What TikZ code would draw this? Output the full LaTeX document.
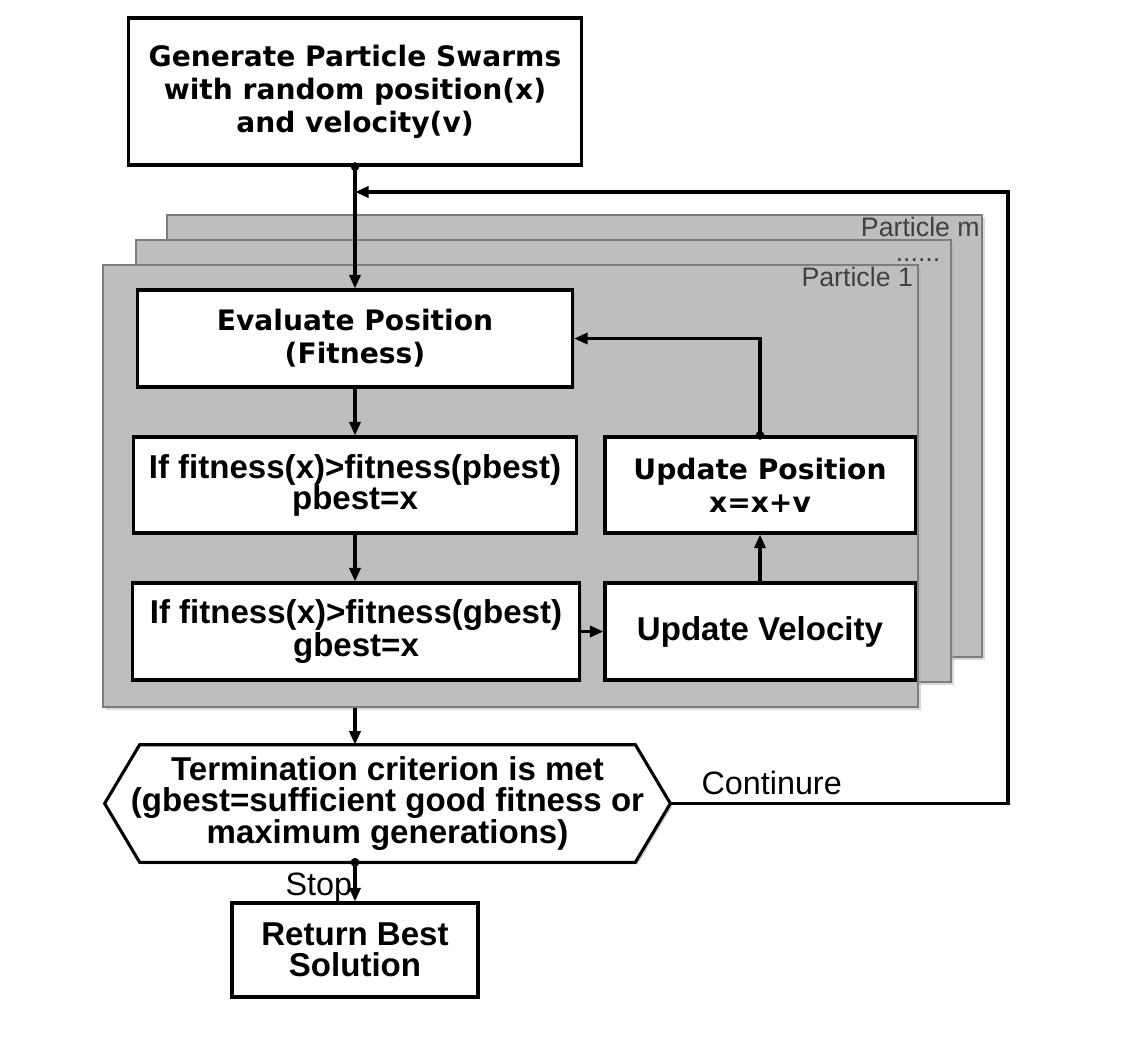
\documentclass[tikz,border=0pt]{standalone}
\usepackage{fontspec}
\setmainfont{Liberation Sans}
\newfontfamily\verd{DejaVu Sans}
\usetikzlibrary{arrows.meta,shadows,backgrounds}
\definecolor{panel}{RGB}{190,190,190}
\definecolor{panelline}{RGB}{125,125,125}
\begin{document}
\begin{tikzpicture}[x=0.025cm, y=-0.025cm,
  box/.style={draw, line width=2.2pt, fill=white, align=center, inner sep=2pt,
    drop shadow={shadow xshift=1.5pt, shadow yshift=-1.5pt, fill=black!40}},
  ltext/.style={align=center, font=\bfseries\fontsize{23.5}{22}\selectfont},
  vbox/.style={box, font=\verd\bfseries\fontsize{20}{23.5}\selectfont},
  lbox/.style={box, ltext},
  sheet/.style={draw=panelline, line width=1pt, fill=panel,
    minimum width=20.375cm, minimum height=11.05cm,
    drop shadow={shadow xshift=2pt, shadow yshift=-2pt, fill=black!30}},
  tag/.style={font=\fontsize{19}{22}\selectfont, text=black!75, anchor=north east,
    inner sep=2pt, text height=13.6pt},
  flow/.style={line width=2.2pt, -{Triangle[length=0.34cm,width=0.28cm]}},
  dot/.style={circle, fill, inner sep=0pt, minimum size=0.22cm}
]
\useasboundingbox (0,0) rectangle (1128,1038);

\node[sheet] (pm) at (574.5,436) {};
\node[sheet] (pd) at (543.5,461) {};
\node[sheet] (p1) at (510.5,486) {};
\node[tag] (tm) at (pm.north east) {Particle m};
\node[tag] (td) at ([xshift=-6pt]pd.north east) {......};
\node[tag] (t1) at ([xshift=-2pt]p1.north east) {Particle 1};

\node[vbox, minimum width=11.3cm, minimum height=3.675cm] (gen) at (355,91.5)
  {Generate Particle Swarms\\with random position(x)\\and velocity(v)};
\node[vbox, minimum width=10.875cm, minimum height=2.425cm] (ev) at (355,338.5)
  {Evaluate Position\\(Fitness)};
\node[lbox, minimum width=11.05cm, minimum height=2.4cm] (pb) at (355,485)
  {If fitness(x)>fitness(pbest)\\pbest=x};
\node[vbox, minimum width=7.75cm, minimum height=2.4cm] (up) at (760,485)
  {Update Position\\x=x+v};
\node[lbox, minimum width=11.175cm, minimum height=2.425cm] (gb) at (356,631.5)
  {If fitness(x)>fitness(gbest)\\gbest=x};
\node[lbox, minimum width=7.75cm, minimum height=2.425cm] (uv) at (760,631.5)
  {Update Velocity};
\node[ltext, inner sep=0pt, minimum width=14.125cm, minimum height=2.925cm] (term) at (387.5,803.5)
  {Termination criterion is met\\(gbest=sufficient good fitness or\\maximum generations)};
\node[lbox, minimum width=6.15cm, minimum height=2.35cm] (ret) at (355,950)
  {Return Best\\Solution};

% hexagon outline of the termination test
\begin{scope}[on background layer]
\path[draw, line width=2.2pt, fill=white,
  drop shadow={shadow xshift=1.5pt, shadow yshift=-1.5pt, fill=black!40}]
  (term.west) -- ([xshift=0.875cm]term.north west) -- ([xshift=-0.875cm]term.north east)
  -- (term.east) -- ([xshift=-0.875cm]term.south east) -- ([xshift=0.875cm]term.south west)
  -- cycle;
\end{scope}

\coordinate (back) at (1008,192);

\path[draw,flow] (gen.south) -- (ev.north);
\path[draw,flow] (ev.south) -- (pb.north);
\path[draw,flow] (pb.south) -- (pb.south |- gb.north);
\path[draw,flow] (gb.east) -- (uv.west);
\path[draw,flow] (uv.north) -- (up.south);
\path[draw,flow] (up.north) |- (ev.east);
\path[draw,flow] (p1.south -| gen.south) -- (term.north -| gen.south);
\path[draw,flow] (term.south -| gen.south) --
  node[left, pos=0.65, inner sep=1pt, font=\fontsize{23}{24}\selectfont] (stop) {Stop} (ret.north);
\path[draw,flow] (term.east) --
  node[above, pos=0.3, inner sep=2pt, yshift=3pt, font=\fontsize{23}{24}\selectfont] (cont) {Continure}
  (term.east -| back) -- (back) -- (back -| gen.south);

\node[dot] (d1) at (gen.south) {};
\node[dot] (d2) at (up.north) {};
\node[dot] (d3) at (term.south -| gen.south) {};
\end{tikzpicture}
\end{document}
